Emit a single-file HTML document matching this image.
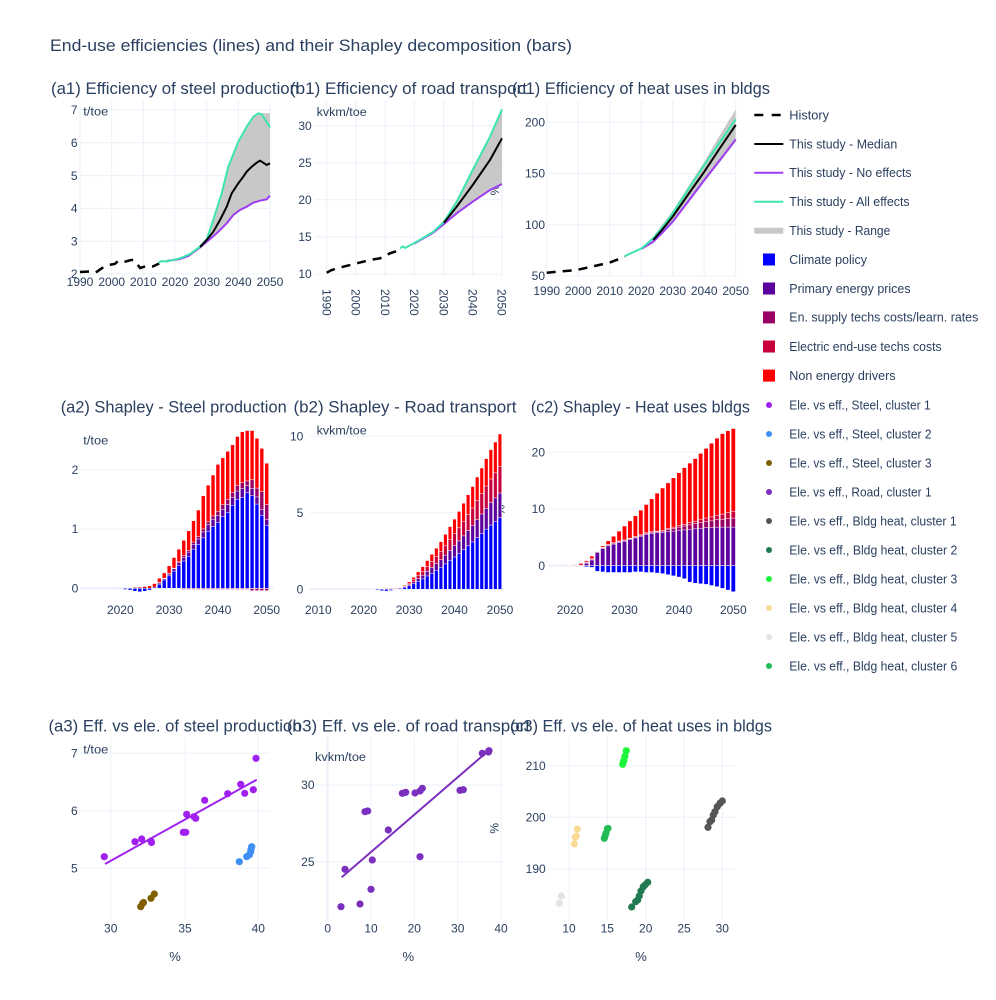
<!DOCTYPE html>
<html><head><meta charset="utf-8"><style>
html,body{margin:0;padding:0;background:#fff;}
svg{display:block;}
.b path{vector-effect:non-scaling-stroke;stroke:#fff;stroke-width:0.5;}
text{font-family:"Liberation Sans",Arial,sans-serif;fill:#2a3f5f;}
.tk{font-size:12px;}
.lg{font-size:12.5px;}
.st{font-size:16.5px;}
</style></head><body>
<svg xmlns="http://www.w3.org/2000/svg" width="996" height="1000" viewBox="0 0 996 1000">
<rect width="996" height="1000" fill="#fff"/>

<text x="50" y="51" style="font-size:17px" textLength="522" lengthAdjust="spacingAndGlyphs">End-use efficiencies (lines) and their Shapley decomposition (bars)</text>

<!-- grids -->
<g stroke="#ebf0f8" stroke-width="1" fill="none">
<path d="M80 101V277M111.7 101V277M143.3 101V277M175 101V277M206.7 101V277M238.3 101V277M270 101V277M80 274H270M80 241.2H270M80 208.4H270M80 175.6H270M80 142.8H270M80 110H270"/>
<path d="M326.7 101V277M355.9 101V277M385.1 101V277M414.3 101V277M443.5 101V277M472.7 101V277M501.9 101V277M315 274H503M315 236.9H503M315 199.8H503M315 162.7H503M315 125.6H503"/>
<path d="M546.7 101V277M578.2 101V277M609.7 101V277M641.2 101V277M672.7 101V277M704.2 101V277M735.7 101V277M547 276H736M547 224.75H736M547 173.5H736M547 122.25H736"/>
<path d="M80 529H273M80 469.7H273M310 512.8H503M310 436.3H503M548 509H736M548 452.3H736"/>
<path d="M80 588.3H273M310 589.3H503M548 565.7H736" stroke-width="2"/>
<path d="M110.7 737V920M185 737V920M258.3 737V920M80 753.3H270M80 811H270M80 868.3H270"/>
<path d="M371 737V920M414.3 737V920M457.7 737V920M501 737V920M315 785H503M315 861.7H503"/>
<path d="M327.7 737V920" stroke-width="2"/>
<path d="M569 737V920M607.3 737V920M645.7 737V920M684 737V920M722.3 737V920M548 765.7H736M548 817.3H736M548 869H736"/>
</g>

<!-- subplot titles -->
<text class="st" x="175" y="94" text-anchor="middle" textLength="248" lengthAdjust="spacingAndGlyphs">(a1) Efficiency of steel production</text>
<text class="st" x="408.5" y="94" text-anchor="middle" textLength="237" lengthAdjust="spacingAndGlyphs">(b1) Efficiency of road transport</text>
<text class="st" x="641" y="94" text-anchor="middle" textLength="258" lengthAdjust="spacingAndGlyphs">(c1) Efficiency of heat uses in bldgs</text>
<text class="st" x="173.7" y="412.5" text-anchor="middle" textLength="226" lengthAdjust="spacingAndGlyphs">(a2) Shapley - Steel production</text>
<text class="st" x="405" y="412.5" text-anchor="middle" textLength="223" lengthAdjust="spacingAndGlyphs">(b2) Shapley - Road transport</text>
<text class="st" x="640.4" y="412.5" text-anchor="middle" textLength="219" lengthAdjust="spacingAndGlyphs">(c2) Shapley - Heat uses bldgs</text>
<text class="st" x="175" y="731.5" text-anchor="middle" textLength="253" lengthAdjust="spacingAndGlyphs">(a3) Eff. vs ele. of steel production</text>
<text class="st" x="408.5" y="731.5" text-anchor="middle" textLength="243" lengthAdjust="spacingAndGlyphs">(b3) Eff. vs ele. of road transport</text>
<text class="st" x="641" y="731.5" text-anchor="middle" textLength="262" lengthAdjust="spacingAndGlyphs">(c3) Eff. vs ele. of heat uses in bldgs</text>

<!-- Row 1 tick labels -->
<g class="tk" text-anchor="end">
<text x="77.5" y="114.2">7</text><text x="77.5" y="147">6</text><text x="77.5" y="179.8">5</text><text x="77.5" y="212.6">4</text><text x="77.5" y="245.4">3</text><text x="77.5" y="278.2">2</text>
<text x="311.7" y="129.8">30</text><text x="311.7" y="166.9">25</text><text x="311.7" y="204">20</text><text x="311.7" y="241.1">15</text><text x="311.7" y="278.2">10</text>
<text x="545" y="126.45">200</text><text x="545" y="177.7">150</text><text x="545" y="228.95">100</text><text x="545" y="280.2">50</text>
</g>
<g class="tk" text-anchor="middle">
<text x="80" y="286.2">1990</text><text x="111.7" y="286.2">2000</text><text x="143.3" y="286.2">2010</text><text x="175" y="286.2">2020</text><text x="206.7" y="286.2">2030</text><text x="238.3" y="286.2">2040</text><text x="270" y="286.2">2050</text>
<text x="546.7" y="295.2">1990</text><text x="578.2" y="295.2">2000</text><text x="609.7" y="295.2">2010</text><text x="641.2" y="295.2">2020</text><text x="672.7" y="295.2">2030</text><text x="704.2" y="295.2">2040</text><text x="735.7" y="295.2">2050</text>
</g>
<g class="tk">
<text transform="translate(326.7,289) rotate(90)" dy="4.2">1990</text>
<text transform="translate(355.9,289) rotate(90)" dy="4.2">2000</text>
<text transform="translate(385.1,289) rotate(90)" dy="4.2">2010</text>
<text transform="translate(414.3,289) rotate(90)" dy="4.2">2020</text>
<text transform="translate(443.5,289) rotate(90)" dy="4.2">2030</text>
<text transform="translate(472.7,289) rotate(90)" dy="4.2">2040</text>
<text transform="translate(501.9,289) rotate(90)" dy="4.2">2050</text>
</g>
<text x="83.3" y="115.5" style="font-size:11.5px" textLength="25" lengthAdjust="spacingAndGlyphs">t/toe</text>
<text x="316.7" y="116" style="font-size:11.5px" textLength="50" lengthAdjust="spacingAndGlyphs">kvkm/toe</text>
<text transform="translate(495,190) rotate(-90)" text-anchor="middle" dy="4" style="font-size:12px">%</text>

<!-- a1 lines -->
<polygon fill="#c8c8c8" points="200,246.7 206.7,239.3 213.3,220 221.7,193.3 228.3,166.7 238.3,141.7 246.7,126.7 253.3,116.7 258.3,113.3 270,113.3 270,195.7 266.7,199.3 260,200.7 253.3,202.7 246.7,206.7 240,210 233.3,215 226.7,223.3 216.7,233.3 208.3,240.5 200,247.5"/>
<polyline fill="none" stroke="#000" stroke-width="2.5" stroke-dasharray="9,7" points="80,272 89.5,271.5 95.8,272.5 102.2,268 108.5,265 114.8,264 118,261 124.3,262 130.7,260 133.8,260 140.2,268 146.5,266 152.8,266.5 159.2,263.5"/>
<polyline fill="none" stroke="#9d3df2" stroke-width="2" points="166.7,261 180,259 188.3,256 200,247.5 208.3,240.5 216.7,233.3 226.7,223.3 233.3,215 240,210 246.7,206.7 253.3,202.7 260,200.7 266.7,199.3 270,195.7"/>
<polyline fill="none" stroke="#3de6ad" stroke-width="2" points="158.3,262.7 162,261 166.7,261.5 180,258.3 190,254 200,246.7 206.7,239.3 213.3,220 221.7,193.3 228.3,166.7 238.3,141.7 246.7,126.7 253.3,116.7 258.3,113.3 261.7,114.3 270,127.3"/>
<polyline fill="none" stroke="#000" stroke-width="2" points="200,247 206.7,240 213.3,231.7 220,220 226.7,206.7 231.7,193.3 238.3,183.3 243.3,176.7 246.7,171.7 251.7,166.7 256.7,162.7 260,160.7 263.3,162.7 266.7,165 270,163.3"/>

<!-- b1 lines -->
<polygon fill="#c8c8c8" points="444,221.7 456.7,201.7 472.7,170 490,136.7 502,109.3 502,184 490,190 472.7,201.7 456.7,213.3 444,224"/>
<polyline fill="none" stroke="#000" stroke-width="2.5" stroke-dasharray="9,7" points="326.7,272.7 331.7,270 343.3,266.7 356.7,263.3 370,260 380,258.3 390,253.3 400,250"/>
<polyline fill="none" stroke="#9d3df2" stroke-width="2" points="414,243.8 433.3,232.5 444,224 456.7,213.3 472.7,201.7 490,190 502,184"/>
<polyline fill="none" stroke="#3de6ad" stroke-width="2" points="400,248.3 403,246.5 405,248 414,243.3 433.3,231.7 444,221.7 456.7,201.7 472.7,170 490,136.7 502,109.3"/>
<polyline fill="none" stroke="#000" stroke-width="2" points="444,222.7 456.7,206.7 472.7,185 490,160 502,138.3"/>

<!-- c1 lines -->
<polygon fill="#c8c8c8" points="625,256 641.7,247.5 653.3,236.5 672.7,211 688.5,186 704.3,161.7 720,135 735.7,109.3 735.7,142 720,162 704.3,182 688.5,203 672.7,222.5 653.3,242 641.7,248.8 625,256.5"/>
<polyline fill="none" stroke="#000" stroke-width="2.5" stroke-dasharray="9,7" points="546.7,272.7 576.7,270 609.3,262.7 625,256.7"/>
<polyline fill="none" stroke="#9d3df2" stroke-width="2" points="641.7,248.8 653.3,241.7 662,233 672.7,221.7 688.5,201 704.3,180 720,160 735.7,139.3"/>
<polyline fill="none" stroke="#3de6ad" stroke-width="2" points="625,256 641.7,248.3 653.3,238.3 662,228 672.7,213.3 688.5,189 704.3,165 720,142 735.7,119.3"/>
<polyline fill="none" stroke="#000" stroke-width="2" points="653.3,240 662,230 672.7,216.7 688.5,194 704.3,171.7 720,148 735.7,125"/>

<!-- Row 2 tick labels -->
<g class="tk" text-anchor="end">
<text x="78.3" y="592.5">0</text><text x="78.3" y="533.2">1</text><text x="78.3" y="473.9">2</text>
<text x="303.3" y="593.5">0</text><text x="303.3" y="517">5</text><text x="303.3" y="440.5">10</text>
<text x="545" y="569.9">0</text><text x="545" y="513.2">10</text><text x="545" y="456.5">20</text>
</g>
<g class="tk" text-anchor="middle">
<text x="120.3" y="614.2">2020</text><text x="169.1" y="614.2">2030</text><text x="217.9" y="614.2">2040</text><text x="266.7" y="614.2">2050</text>
<text x="318.3" y="614.2">2010</text><text x="363.7" y="614.2">2020</text><text x="409.1" y="614.2">2030</text><text x="454.5" y="614.2">2040</text><text x="500" y="614.2">2050</text>
<text x="570.1" y="614.2">2020</text><text x="624.5" y="614.2">2030</text><text x="678.9" y="614.2">2040</text><text x="733.3" y="614.2">2050</text>
</g>
<text x="83.3" y="444.5" style="font-size:11.5px" textLength="25" lengthAdjust="spacingAndGlyphs">t/toe</text>
<text x="316.7" y="434.5" style="font-size:11.5px" textLength="50" lengthAdjust="spacingAndGlyphs">kvkm/toe</text>
<text transform="translate(500.5,510) rotate(-90)" text-anchor="middle" dy="4" style="font-size:12px">%</text>

<!-- a2 bars -->
<g class="b" transform="translate(120.3,588.3) scale(4.88,-59.3)">
<path fill="#ff0000" d="M1.6 0h.8v.01h-.8zM2.6 0h.8v.015h-.8zM3.6 0h.8v.02h-.8zM4.6 0h.8v.03h-.8zM5.6 0h.8v.04h-.8zM6.6 0h.8v.08h-.8zM7.6 0h.8v.17h-.8zM8.6 0h.8v.26h-.8zM9.6 0h.8v.38h-.8zM10.6 0h.8v.52h-.8zM11.6 0h.8v.66h-.8zM12.6 0h.8v.81h-.8zM13.6 0h.8v.97h-.8zM14.6 0h.8v1.14h-.8zM15.6 0h.8v1.32h-.8zM16.6 0h.8v1.56h-.8zM17.6 0h.8v1.74h-.8zM18.6 0h.8v1.91h-.8zM19.6 0h.8v2.09h-.8zM20.6 0h.8v2.2h-.8zM21.6 0h.8v2.31h-.8zM22.6 0h.8v2.42h-.8zM23.6 0h.8v2.56h-.8zM24.6 0h.8v2.64h-.8zM25.6 0h.8v2.66h-.8zM26.6 0h.8v2.66h-.8zM27.6 0h.8v2.53h-.8zM28.6 0h.8v2.36h-.8zM29.6 0h.8v2.11h-.8z"/>
<path fill="#990066" d="M7.6 0h.8v.1h-.8zM8.6 0h.8v.17h-.8zM9.6 0h.8v.25h-.8zM10.6 0h.8v.34h-.8zM11.6 0h.8v.45h-.8zM12.6 0h.8v.55h-.8zM13.6 0h.8v.64h-.8zM14.6 0h.8v.78h-.8zM15.6 0h.8v.87h-.8zM16.6 0h.8v1h-.8zM17.6 0h.8v1.12h-.8zM18.6 0h.8v1.22h-.8zM19.6 0h.8v1.3h-.8zM20.6 0h.8v1.41h-.8zM21.6 0h.8v1.5h-.8zM22.6 0h.8v1.62h-.8zM23.6 0h.8v1.73h-.8zM24.6 0h.8v1.78h-.8zM25.6 0h.8v1.81h-.8zM26.6 0h.8v1.83h-.8zM27.6 0h.8v1.69h-.8zM28.6 0h.8v1.63h-.8zM29.6 0h.8v1.41h-.8zM12.6 0h.8v-.02h-.8zM13.6 0h.8v-.02h-.8zM14.6 0h.8v-.02h-.8zM15.6 0h.8v-.02h-.8zM16.6 0h.8v-.02h-.8zM17.6 0h.8v-.02h-.8zM18.6 0h.8v-.02h-.8zM19.6 0h.8v-.02h-.8zM20.6 0h.8v-.02h-.8zM21.6 0h.8v-.02h-.8zM22.6 0h.8v-.02h-.8zM23.6 0h.8v-.02h-.8zM24.6 0h.8v-.02h-.8zM25.6 0h.8v-.02h-.8zM26.6 0h.8v-.04h-.8zM27.6 0h.8v-.04h-.8zM28.6 0h.8v-.04h-.8zM29.6 0h.8v-.04h-.8z"/>
<path fill="#5c009e" d="M7.6 0h.8v.09h-.8zM8.6 0h.8v.16h-.8zM9.6 0h.8v.24h-.8zM10.6 0h.8v.33h-.8zM11.6 0h.8v.43h-.8zM12.6 0h.8v.52h-.8zM13.6 0h.8v.61h-.8zM14.6 0h.8v.74h-.8zM15.6 0h.8v.83h-.8zM16.6 0h.8v.95h-.8zM17.6 0h.8v1.07h-.8zM18.6 0h.8v1.16h-.8zM19.6 0h.8v1.23h-.8zM20.6 0h.8v1.33h-.8zM21.6 0h.8v1.41h-.8zM22.6 0h.8v1.53h-.8zM23.6 0h.8v1.64h-.8zM24.6 0h.8v1.68h-.8zM25.6 0h.8v1.73h-.8zM26.6 0h.8v1.68h-.8zM27.6 0h.8v1.54h-.8zM28.6 0h.8v1.33h-.8zM29.6 0h.8v1.16h-.8z"/>
<path fill="#0000ff" d="M6.6 0h.8v.02h-.8zM7.6 0h.8v.07h-.8zM8.6 0h.8v.14h-.8zM9.6 0h.8v.21h-.8zM10.6 0h.8v.29h-.8zM11.6 0h.8v.38h-.8zM12.6 0h.8v.46h-.8zM13.6 0h.8v.54h-.8zM14.6 0h.8v.66h-.8zM15.6 0h.8v.74h-.8zM16.6 0h.8v.85h-.8zM17.6 0h.8v.96h-.8zM18.6 0h.8v1.04h-.8zM19.6 0h.8v1.11h-.8zM20.6 0h.8v1.21h-.8zM21.6 0h.8v1.28h-.8zM22.6 0h.8v1.4h-.8zM23.6 0h.8v1.5h-.8zM24.6 0h.8v1.53h-.8zM25.6 0h.8v1.61h-.8zM26.6 0h.8v1.56h-.8zM27.6 0h.8v1.42h-.8zM28.6 0h.8v1.23h-.8zM29.6 0h.8v1.06h-.8zM-1.4 0h.8v-.005h-.8zM-.4 0h.8v-.01h-.8zM.6 0h.8v-.02h-.8zM1.6 0h.8v-.03h-.8zM2.6 0h.8v-.05h-.8zM3.6 0h.8v-.06h-.8zM4.6 0h.8v-.05h-.8zM5.6 0h.8v-.03h-.8z"/>
</g>

<!-- b2 bars -->
<g class="b" transform="translate(363.7,589.3) scale(4.54,-15.3)">
<path fill="#ff0000" d="M2.6 0h.8v.03h-.8zM3.6 0h.8v.04h-.8zM4.6 0h.8v.05h-.8zM5.6 0h.8v.05h-.8zM6.6 0h.8v.06h-.8zM7.6 0h.8v.13h-.8zM8.6 0h.8v.28h-.8zM9.6 0h.8v.5h-.8zM10.6 0h.8v.79h-.8zM11.6 0h.8v1.15h-.8zM12.6 0h.8v1.48h-.8zM13.6 0h.8v1.88h-.8zM14.6 0h.8v2.29h-.8zM15.6 0h.8v2.69h-.8zM16.6 0h.8v3.12h-.8zM17.6 0h.8v3.6h-.8zM18.6 0h.8v4.1h-.8zM19.6 0h.8v4.59h-.8zM20.6 0h.8v5.09h-.8zM21.6 0h.8v5.63h-.8zM22.6 0h.8v6.18h-.8zM23.6 0h.8v6.72h-.8zM24.6 0h.8v7.34h-.8zM25.6 0h.8v7.93h-.8zM26.6 0h.8v8.54h-.8zM27.6 0h.8v9.13h-.8zM28.6 0h.8v9.63h-.8zM29.6 0h.8v10.15h-.8z"/>
<path fill="#c8003c" d="M7.6 0h.8v.1h-.8zM8.6 0h.8v.22h-.8zM9.6 0h.8v.4h-.8zM10.6 0h.8v.62h-.8zM11.6 0h.8v.91h-.8zM12.6 0h.8v1.17h-.8zM13.6 0h.8v1.49h-.8zM14.6 0h.8v1.81h-.8zM15.6 0h.8v2.13h-.8zM16.6 0h.8v2.46h-.8zM17.6 0h.8v2.84h-.8zM18.6 0h.8v3.24h-.8zM19.6 0h.8v3.63h-.8zM20.6 0h.8v4.02h-.8zM21.6 0h.8v4.45h-.8zM22.6 0h.8v4.88h-.8zM23.6 0h.8v5.31h-.8zM24.6 0h.8v5.8h-.8zM25.6 0h.8v6.26h-.8zM26.6 0h.8v6.75h-.8zM27.6 0h.8v7.21h-.8zM28.6 0h.8v7.61h-.8zM29.6 0h.8v8.02h-.8z"/>
<path fill="#5c009e" d="M7.6 0h.8v.08h-.8zM8.6 0h.8v.17h-.8zM9.6 0h.8v.31h-.8zM10.6 0h.8v.49h-.8zM11.6 0h.8v.71h-.8zM12.6 0h.8v.92h-.8zM13.6 0h.8v1.17h-.8zM14.6 0h.8v1.42h-.8zM15.6 0h.8v1.67h-.8zM16.6 0h.8v1.93h-.8zM17.6 0h.8v2.23h-.8zM18.6 0h.8v2.54h-.8zM19.6 0h.8v2.85h-.8zM20.6 0h.8v3.16h-.8zM21.6 0h.8v3.49h-.8zM22.6 0h.8v3.83h-.8zM23.6 0h.8v4.17h-.8zM24.6 0h.8v4.55h-.8zM25.6 0h.8v4.92h-.8zM26.6 0h.8v5.29h-.8zM27.6 0h.8v5.66h-.8zM28.6 0h.8v5.97h-.8zM29.6 0h.8v6.29h-.8z"/>
<path fill="#0000ff" d="M6.6 0h.8v.02h-.8zM7.6 0h.8v.06h-.8zM8.6 0h.8v.13h-.8zM9.6 0h.8v.23h-.8zM10.6 0h.8v.36h-.8zM11.6 0h.8v.53h-.8zM12.6 0h.8v.68h-.8zM13.6 0h.8v.87h-.8zM14.6 0h.8v1.05h-.8zM15.6 0h.8v1.24h-.8zM16.6 0h.8v1.44h-.8zM17.6 0h.8v1.66h-.8zM18.6 0h.8v1.89h-.8zM19.6 0h.8v2.11h-.8zM20.6 0h.8v2.34h-.8zM21.6 0h.8v2.59h-.8zM22.6 0h.8v2.84h-.8zM23.6 0h.8v3.09h-.8zM24.6 0h.8v3.38h-.8zM25.6 0h.8v3.65h-.8zM26.6 0h.8v3.93h-.8zM27.6 0h.8v4.2h-.8zM28.6 0h.8v4.43h-.8zM29.6 0h.8v4.67h-.8zM1.6 0h.8v-.03h-.8zM2.6 0h.8v-.06h-.8zM3.6 0h.8v-.1h-.8zM4.6 0h.8v-.12h-.8zM5.6 0h.8v-.08h-.8z"/>
</g>

<!-- c2 bars -->
<g class="b" transform="translate(570.1,565.7) scale(5.44,-5.67)">
<path fill="#ff0000" d="M-.4 0h.8v.05h-.8zM.6 0h.8v.15h-.8zM1.6 0h.8v.4h-.8zM2.6 0h.8v.9h-.8zM3.6 0h.8v1.7h-.8zM4.6 0h.8v2.6h-.8zM5.6 0h.8v3.5h-.8zM6.6 0h.8v4.4h-.8zM7.6 0h.8v5.2h-.8zM8.6 0h.8v6.1h-.8zM9.6 0h.8v7h-.8zM10.6 0h.8v7.9h-.8zM11.6 0h.8v8.8h-.8zM12.6 0h.8v9.8h-.8zM13.6 0h.8v10.8h-.8zM14.6 0h.8v11.8h-.8zM15.6 0h.8v12.8h-.8zM16.6 0h.8v13.7h-.8zM17.6 0h.8v14.6h-.8zM18.6 0h.8v15.5h-.8zM19.6 0h.8v16.4h-.8zM20.6 0h.8v17.3h-.8zM21.6 0h.8v18.1h-.8zM22.6 0h.8v18.9h-.8zM23.6 0h.8v19.8h-.8zM24.6 0h.8v20.7h-.8zM25.6 0h.8v21.6h-.8zM26.6 0h.8v22.5h-.8zM27.6 0h.8v23.3h-.8zM28.6 0h.8v23.8h-.8zM29.6 0h.8v24.2h-.8z"/>
<path fill="#c8003c" d="M2.6 0h.8v.65h-.8zM3.6 0h.8v1.25h-.8zM4.6 0h.8v2.55h-.8zM5.6 0h.8v3.25h-.8zM6.6 0h.8v3.75h-.8zM7.6 0h.8v4.05h-.8zM8.6 0h.8v4.35h-.8zM9.6 0h.8v4.55h-.8zM10.6 0h.8v4.85h-.8zM11.6 0h.8v5.15h-.8zM12.6 0h.8v5.45h-.8zM13.6 0h.8v5.8h-.8zM14.6 0h.8v6h-.8zM15.6 0h.8v6.1h-.8zM16.6 0h.8v6.2h-.8zM17.6 0h.8v6.55h-.8zM18.6 0h.8v6.8h-.8zM19.6 0h.8v7.05h-.8zM20.6 0h.8v7.3h-.8zM21.6 0h.8v7.6h-.8zM22.6 0h.8v7.85h-.8zM23.6 0h.8v8.1h-.8zM24.6 0h.8v8.4h-.8zM25.6 0h.8v8.6h-.8zM26.6 0h.8v8.9h-.8zM27.6 0h.8v9.1h-.8zM28.6 0h.8v9.35h-.8zM29.6 0h.8v9.6h-.8z"/>
<path fill="#990066" d="M2.6 0h.8v.55h-.8zM3.6 0h.8v1.15h-.8zM4.6 0h.8v2.45h-.8zM5.6 0h.8v3.15h-.8zM6.6 0h.8v3.65h-.8zM7.6 0h.8v3.95h-.8zM8.6 0h.8v4.25h-.8zM9.6 0h.8v4.45h-.8zM10.6 0h.8v4.75h-.8zM11.6 0h.8v5.05h-.8zM12.6 0h.8v5.35h-.8zM13.6 0h.8v5.7h-.8zM14.6 0h.8v5.9h-.8zM15.6 0h.8v6h-.8zM16.6 0h.8v6.1h-.8zM17.6 0h.8v6.4h-.8zM18.6 0h.8v6.6h-.8zM19.6 0h.8v6.8h-.8zM20.6 0h.8v7h-.8zM21.6 0h.8v7.2h-.8zM22.6 0h.8v7.4h-.8zM23.6 0h.8v7.6h-.8zM24.6 0h.8v7.8h-.8zM25.6 0h.8v7.9h-.8zM26.6 0h.8v8.1h-.8zM27.6 0h.8v8.2h-.8zM28.6 0h.8v8.3h-.8zM29.6 0h.8v8.4h-.8z"/>
<path fill="#5c009e" d="M.6 0h.8v.02h-.8zM1.6 0h.8v.1h-.8zM2.6 0h.8v.4h-.8zM3.6 0h.8v1h-.8zM4.6 0h.8v2.3h-.8zM5.6 0h.8v3h-.8zM6.6 0h.8v3.5h-.8zM7.6 0h.8v3.8h-.8zM8.6 0h.8v4.1h-.8zM9.6 0h.8v4.3h-.8zM10.6 0h.8v4.6h-.8zM11.6 0h.8v4.9h-.8zM12.6 0h.8v5.2h-.8zM13.6 0h.8v5.5h-.8zM14.6 0h.8v5.7h-.8zM15.6 0h.8v5.8h-.8zM16.6 0h.8v5.9h-.8zM17.6 0h.8v6h-.8zM18.6 0h.8v6.1h-.8zM19.6 0h.8v6.2h-.8zM20.6 0h.8v6.3h-.8zM21.6 0h.8v6.4h-.8zM22.6 0h.8v6.5h-.8zM23.6 0h.8v6.6h-.8zM24.6 0h.8v6.7h-.8zM25.6 0h.8v6.7h-.8zM26.6 0h.8v6.8h-.8zM27.6 0h.8v6.8h-.8zM28.6 0h.8v6.8h-.8zM29.6 0h.8v6.8h-.8z"/>
<path fill="#0000ff" d="M.6 0h.8v-.05h-.8zM1.6 0h.8v-.1h-.8zM2.6 0h.8v-.2h-.8zM3.6 0h.8v-.3h-.8zM4.6 0h.8v-1h-.8zM5.6 0h.8v-1.1h-.8zM6.6 0h.8v-1.2h-.8zM7.6 0h.8v-1.2h-.8zM8.6 0h.8v-1.2h-.8zM9.6 0h.8v-1.2h-.8zM10.6 0h.8v-1.2h-.8zM11.6 0h.8v-1.1h-.8zM12.6 0h.8v-1.1h-.8zM13.6 0h.8v-1.2h-.8zM14.6 0h.8v-1.2h-.8zM15.6 0h.8v-1.3h-.8zM16.6 0h.8v-1.4h-.8zM17.6 0h.8v-1.6h-.8zM18.6 0h.8v-1.8h-.8zM19.6 0h.8v-2h-.8zM20.6 0h.8v-2.3h-.8zM21.6 0h.8v-2.9h-.8zM22.6 0h.8v-3.1h-.8zM23.6 0h.8v-3.2h-.8zM24.6 0h.8v-3.3h-.8zM25.6 0h.8v-3.5h-.8zM26.6 0h.8v-3.7h-.8zM27.6 0h.8v-4h-.8zM28.6 0h.8v-4.3h-.8zM29.6 0h.8v-4.6h-.8z"/>
</g>

<!-- Row 3 tick labels -->
<g class="tk" text-anchor="end">
<text x="77.7" y="757.5">7</text><text x="77.7" y="815.2">6</text><text x="77.7" y="872.5">5</text>
<text x="314.5" y="789.2">30</text><text x="314.5" y="865.9">25</text>
<text x="545.7" y="769.9">210</text><text x="545.7" y="821.5">200</text><text x="545.7" y="873.2">190</text>
</g>
<g class="tk" text-anchor="middle">
<text x="110.7" y="932.5">30</text><text x="185" y="932.5">35</text><text x="258.3" y="932.5">40</text>
<text x="327.7" y="932.5">0</text><text x="371" y="932.5">10</text><text x="414.3" y="932.5">20</text><text x="457.7" y="932.5">30</text><text x="501" y="932.5">40</text>
<text x="569" y="932.5">10</text><text x="607.3" y="932.5">15</text><text x="645.7" y="932.5">20</text><text x="684" y="932.5">25</text><text x="722.3" y="932.5">30</text>
</g>
<g style="font-size:13px" text-anchor="middle">
<text x="175" y="961">%</text><text x="408.3" y="961">%</text><text x="641" y="961">%</text>
</g>
<text x="83.3" y="753.5" style="font-size:11.5px" textLength="25" lengthAdjust="spacingAndGlyphs">t/toe</text>
<text x="315" y="761" style="font-size:11.5px" textLength="51" lengthAdjust="spacingAndGlyphs">kvkm/toe</text>
<text transform="translate(494.3,828.3) rotate(-90)" text-anchor="middle" dy="4" style="font-size:12px">%</text>

<!-- a3 scatter -->
<line x1="105" y1="864" x2="256.7" y2="779.7" stroke="#a020f0" stroke-width="2"/>
<g fill="#a020f0">
<circle cx="104.3" cy="856.7" r="3.6"/><circle cx="135" cy="841.7" r="3.6"/><circle cx="141.7" cy="839" r="3.6"/><circle cx="151" cy="841" r="3.6"/><circle cx="151.5" cy="842.5" r="3.6"/><circle cx="183.3" cy="832.3" r="3.6"/><circle cx="185.7" cy="832.3" r="3.6"/><circle cx="186.7" cy="814.3" r="3.6"/><circle cx="194" cy="816.7" r="3.6"/><circle cx="195.7" cy="818.3" r="3.6"/><circle cx="204.7" cy="800.3" r="3.6"/><circle cx="227.7" cy="793.7" r="3.6"/><circle cx="240.7" cy="784.3" r="3.6"/><circle cx="244.7" cy="793.3" r="3.6"/><circle cx="253.3" cy="789.7" r="3.6"/><circle cx="256" cy="758.3" r="3.6"/>
</g>
<g fill="#3d8ef5">
<circle cx="239.3" cy="861.7" r="3.6"/><circle cx="246.7" cy="856.7" r="3.6"/><circle cx="249.3" cy="855" r="3.6"/><circle cx="250.7" cy="851.7" r="3.6"/><circle cx="251" cy="849" r="3.6"/><circle cx="251.7" cy="846.7" r="3.6"/>
</g>
<g fill="#7f5f00">
<circle cx="140.7" cy="906.7" r="3.6"/><circle cx="142.7" cy="903.3" r="3.6"/><circle cx="143.5" cy="902.5" r="3.6"/><circle cx="151" cy="898.3" r="3.6"/><circle cx="154.3" cy="894" r="3.6"/>
</g>

<!-- b3 scatter -->
<line x1="341.7" y1="877.3" x2="484.3" y2="754.3" stroke="#7b2fbe" stroke-width="2"/>
<g fill="#7b2fbe">
<circle cx="341" cy="906.7" r="3.6"/><circle cx="360" cy="904" r="3.6"/><circle cx="371" cy="889.3" r="3.6"/><circle cx="372.3" cy="860" r="3.6"/><circle cx="345" cy="869.3" r="3.6"/><circle cx="365" cy="811.7" r="3.6"/><circle cx="367.7" cy="811" r="3.6"/><circle cx="388.3" cy="830" r="3.6"/><circle cx="402.3" cy="793.3" r="3.6"/><circle cx="405.7" cy="792.3" r="3.6"/><circle cx="415" cy="793" r="3.6"/><circle cx="420" cy="791" r="3.6"/><circle cx="422.3" cy="788.3" r="3.6"/><circle cx="420" cy="856.7" r="3.6"/><circle cx="460" cy="790.3" r="3.6"/><circle cx="463.3" cy="789.7" r="3.6"/><circle cx="482.3" cy="753.3" r="3.6"/><circle cx="489" cy="750.7" r="3.6"/><circle cx="488.5" cy="752" r="3.6"/>
</g>

<!-- c3 scatter -->
<g fill="#1cf53a">
<circle cx="622.7" cy="764.3" r="3.6"/><circle cx="623.3" cy="762" r="3.6"/><circle cx="624" cy="760" r="3.6"/><circle cx="625" cy="756" r="3.6"/><circle cx="626.3" cy="750.7" r="3.6"/>
</g>
<g fill="#f9db98">
<circle cx="574.3" cy="844" r="3.6"/><circle cx="575.3" cy="837.3" r="3.6"/><circle cx="576.3" cy="836" r="3.6"/><circle cx="577.3" cy="829" r="3.6"/>
</g>
<g fill="#22bb55">
<circle cx="604.3" cy="838.3" r="3.6"/><circle cx="605" cy="836" r="3.6"/><circle cx="606" cy="833.3" r="3.6"/><circle cx="607.3" cy="829" r="3.6"/><circle cx="608" cy="828.3" r="3.6"/>
</g>
<g fill="#555555">
<circle cx="708" cy="827.3" r="3.6"/><circle cx="710" cy="821.7" r="3.6"/><circle cx="711.7" cy="820" r="3.6"/><circle cx="713.3" cy="815" r="3.6"/><circle cx="715" cy="811.7" r="3.6"/><circle cx="717.3" cy="806.7" r="3.6"/><circle cx="720" cy="803.3" r="3.6"/><circle cx="722.3" cy="801" r="3.6"/>
</g>
<g fill="#227a52">
<circle cx="631.7" cy="907" r="3.6"/><circle cx="635.7" cy="901.7" r="3.6"/><circle cx="637.7" cy="900" r="3.6"/><circle cx="639.3" cy="896" r="3.6"/><circle cx="641" cy="891" r="3.6"/><circle cx="643.3" cy="886.7" r="3.6"/><circle cx="645" cy="885" r="3.6"/><circle cx="647.7" cy="882.3" r="3.6"/>
</g>
<g fill="#e3e3e3">
<circle cx="559.3" cy="903.3" r="3.6"/><circle cx="561.3" cy="896" r="3.6"/>
</g>

<!-- legend -->
<g stroke-width="2.5" fill="none">
<path d="M754.3 115h9M771.7 115h9" stroke="#000"/>
<path d="M754.3 144h29" stroke="#000" stroke-width="2"/>
<path d="M754.3 172.8h29" stroke="#9d3df2" stroke-width="2"/>
<path d="M754.3 201.8h29" stroke="#3de6ad" stroke-width="2"/>
<path d="M754.3 230.8h29" stroke="#c8c8c8" stroke-width="6"/>
</g>
<rect x="763" y="253.5" width="12" height="12" fill="#0000ff"/>
<rect x="763" y="282.5" width="12" height="12" fill="#5c009e"/>
<rect x="763" y="311.4" width="12" height="12" fill="#990066"/>
<rect x="763" y="340.5" width="12" height="12" fill="#c8003c"/>
<rect x="763" y="369.6" width="12" height="12" fill="#ff0000"/>
<circle cx="769" cy="405" r="3" fill="#a020f0"/>
<circle cx="769" cy="434" r="3" fill="#3d8ef5"/>
<circle cx="769" cy="463" r="3" fill="#7f5f00"/>
<circle cx="769" cy="492" r="3" fill="#7b2fbe"/>
<circle cx="769" cy="521" r="3" fill="#555555"/>
<circle cx="769" cy="550" r="3" fill="#227a52"/>
<circle cx="769" cy="579" r="3" fill="#1cf53a"/>
<circle cx="769" cy="608" r="3" fill="#f9db98"/>
<circle cx="769" cy="637" r="3" fill="#e3e3e3"/>
<circle cx="769" cy="666" r="3" fill="#22bb55"/>
<g class="lg">
<text x="789.3" y="119.3" textLength="39.7" lengthAdjust="spacingAndGlyphs">History</text>
<text x="789.3" y="148.3" textLength="108" lengthAdjust="spacingAndGlyphs">This study - Median</text>
<text x="789.3" y="177.1" textLength="122.3" lengthAdjust="spacingAndGlyphs">This study - No effects</text>
<text x="789.3" y="206.1" textLength="120.3" lengthAdjust="spacingAndGlyphs">This study - All effects</text>
<text x="789.3" y="235.1" textLength="101" lengthAdjust="spacingAndGlyphs">This study - Range</text>
<text x="789.3" y="263.8" textLength="77.7" lengthAdjust="spacingAndGlyphs">Climate policy</text>
<text x="789.3" y="292.8" textLength="121.3" lengthAdjust="spacingAndGlyphs">Primary energy prices</text>
<text x="789.3" y="321.7" textLength="189" lengthAdjust="spacingAndGlyphs">En. supply techs costs/learn. rates</text>
<text x="789.3" y="350.8" textLength="152.3" lengthAdjust="spacingAndGlyphs">Electric end-use techs costs</text>
<text x="789.3" y="379.9" textLength="106.3" lengthAdjust="spacingAndGlyphs">Non energy drivers</text>
<text x="789.3" y="409.3" textLength="141.3" lengthAdjust="spacingAndGlyphs">Ele. vs eff., Steel, cluster 1</text>
<text x="789.3" y="438.3" textLength="142.3" lengthAdjust="spacingAndGlyphs">Ele. vs eff., Steel, cluster 2</text>
<text x="789.3" y="467.3" textLength="142.3" lengthAdjust="spacingAndGlyphs">Ele. vs eff., Steel, cluster 3</text>
<text x="789.3" y="496.3" textLength="142.3" lengthAdjust="spacingAndGlyphs">Ele. vs eff., Road, cluster 1</text>
<text x="789.3" y="525.3" textLength="167.3" lengthAdjust="spacingAndGlyphs">Ele. vs eff., Bldg heat, cluster 1</text>
<text x="789.3" y="554.3" textLength="168" lengthAdjust="spacingAndGlyphs">Ele. vs eff., Bldg heat, cluster 2</text>
<text x="789.3" y="583.3" textLength="168" lengthAdjust="spacingAndGlyphs">Ele. vs eff., Bldg heat, cluster 3</text>
<text x="789.3" y="612.3" textLength="168" lengthAdjust="spacingAndGlyphs">Ele. vs eff., Bldg heat, cluster 4</text>
<text x="789.3" y="641.3" textLength="168" lengthAdjust="spacingAndGlyphs">Ele. vs eff., Bldg heat, cluster 5</text>
<text x="789.3" y="670.3" textLength="168" lengthAdjust="spacingAndGlyphs">Ele. vs eff., Bldg heat, cluster 6</text>
</g>
</svg>
</body></html>
